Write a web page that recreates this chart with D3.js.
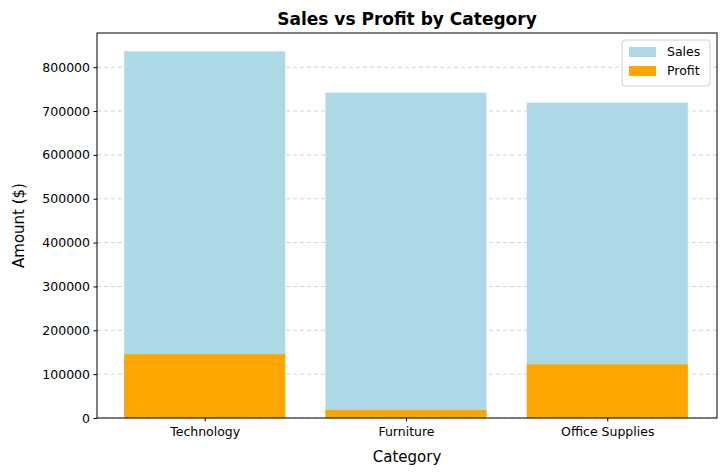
<!DOCTYPE html>
<html><head><meta charset="utf-8">
<script src="https://cdn.jsdelivr.net/npm/d3@7"></script>
<style>body{margin:0;background:#fff}text{font-family:"DejaVu Sans",sans-serif}</style>
</head><body><svg id="c" width="725" height="475"></svg>
<script>
const categories = ["Technology","Furniture","Office Supplies"];
const sales = [836154, 741999.8, 719047];
const profit = [145454.9, 18451.3, 122490.8];
const yTicks = [0,100000,200000,300000,400000,500000,600000,700000,800000];

const svg = d3.select("#c");
const L=97,R=717,T=33,B=418;
const x = d3.scaleLinear().domain([-0.535,2.545]).range([L,R]);
const y = d3.scaleLinear().domain([0, d3.max(sales)*1.05]).range([B,T]);
const bw = x(0.8)-x(0);

const g = svg.append("g");
g.selectAll("line.grid").data(yTicks).join("line")
 .attr("x1",L).attr("x2",R).attr("y1",d=>y(d)).attr("y2",d=>y(d))
 .attr("stroke","#b0b0b0").attr("stroke-dasharray","4,3").attr("stroke-width",0.8).attr("opacity",0.7);

g.selectAll("rect.s").data(sales).join("rect")
 .attr("x",(d,i)=>x(i)-bw/2).attr("width",bw).attr("y",d=>y(d)).attr("height",d=>B-y(d)).attr("fill","#add8e6");
g.selectAll("rect.p").data(profit).join("rect")
 .attr("x",(d,i)=>x(i)-bw/2).attr("width",bw).attr("y",d=>y(d)).attr("height",d=>B-y(d)).attr("fill","#ffa500");

const ya = svg.append("g").attr("transform",`translate(${L},0)`)
 .call(d3.axisLeft(y).tickValues(yTicks).tickFormat(d3.format("d")).tickSizeOuter(0).tickSize(3.5));
const xa = svg.append("g").attr("transform",`translate(0,${B})`)
 .call(d3.axisBottom(x).tickValues([0,1,2]).tickFormat(i=>categories[i]).tickSizeOuter(0).tickSize(3.5));
[ya,xa].forEach(a=>{a.selectAll("text").attr("font-size",12.5).attr("fill","#000").style("font-family","DejaVu Sans");a.select(".domain").remove();a.selectAll("line").attr("stroke","#000");});
ya.selectAll("text").attr("x",-7);
xa.selectAll("text").attr("y",9);

svg.append("rect").attr("x",L).attr("y",T).attr("width",R-L).attr("height",B-T).attr("fill","none").attr("stroke","#000").attr("stroke-width",1);

svg.append("text").attr("x",(L+R)/2).attr("y",25).attr("text-anchor","middle").attr("font-size",17).attr("font-weight","bold").text("Sales vs Profit by Category");
svg.append("text").attr("x",(L+R)/2).attr("y",462).attr("text-anchor","middle").attr("font-size",15).text("Category");
svg.append("text").attr("transform",`translate(24,${(T+B)/2}) rotate(-90)`).attr("text-anchor","middle").attr("font-size",15).text("Amount ($)");

const lg = svg.append("g").attr("transform","translate(622,40)");
lg.append("rect").attr("width",88).attr("height",46).attr("rx",3).attr("fill","#fff").attr("stroke","#ccc").attr("opacity",0.9);
[["Sales","#add8e6"],["Profit","#ffa500"]].forEach((d,i)=>{
 lg.append("rect").attr("x",7).attr("y",7+i*19).attr("width",27).attr("height",10).attr("fill",d[1]);
 lg.append("text").attr("x",45).attr("y",16+i*19).attr("font-size",12.5).text(d[0]);
});
</script></body></html>
